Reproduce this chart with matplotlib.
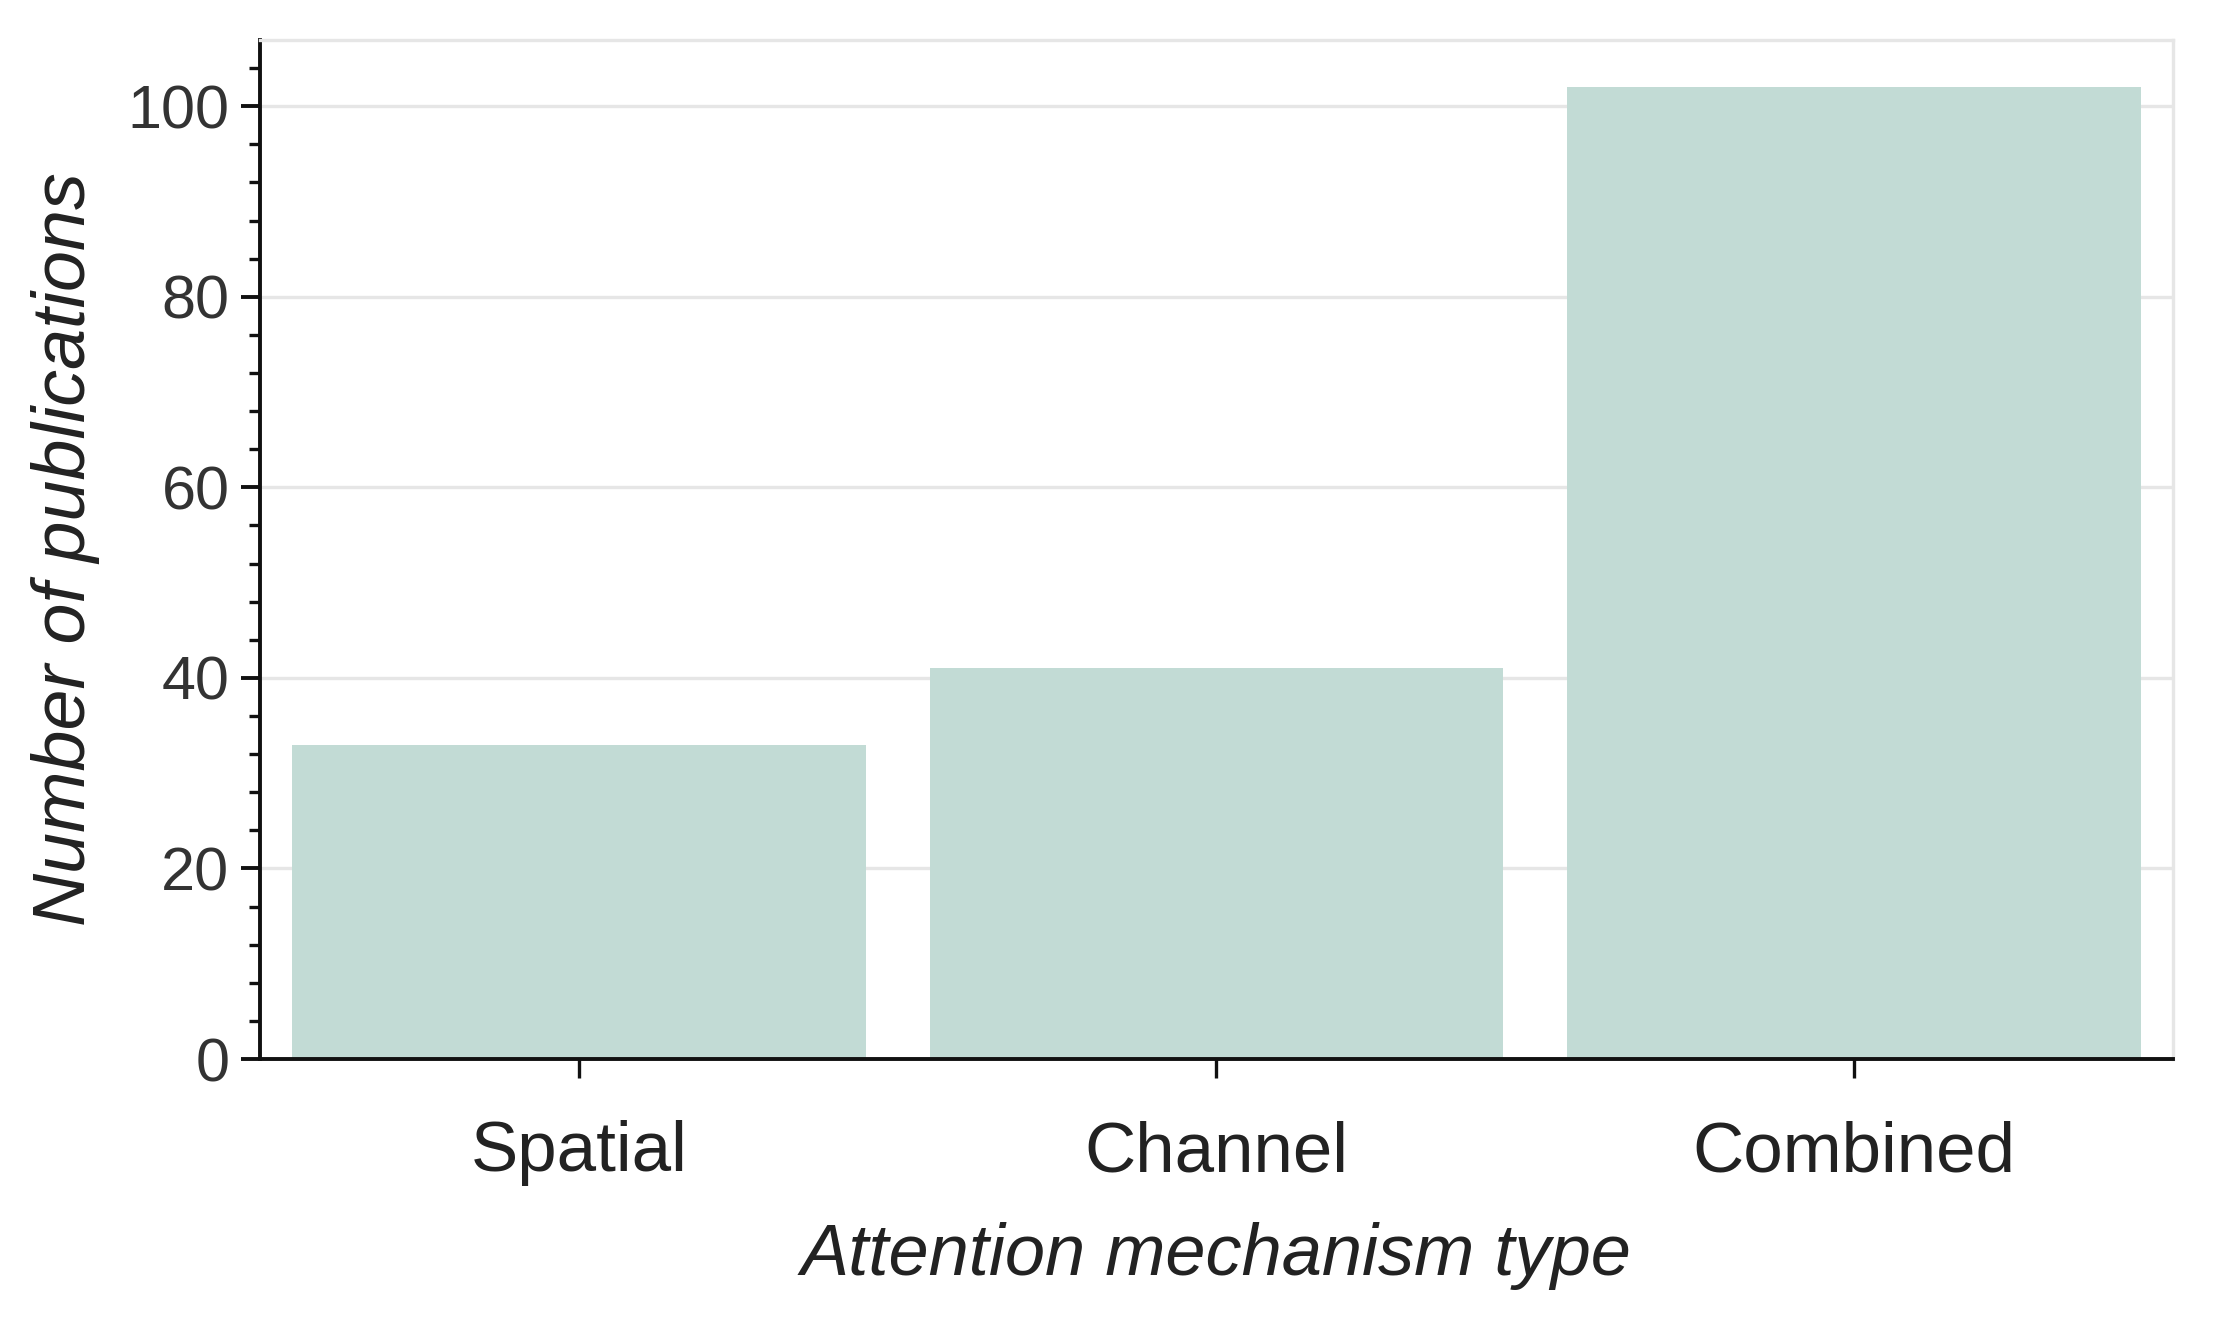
import matplotlib
matplotlib.use('Agg')
import matplotlib.pyplot as plt
from matplotlib.ticker import MultipleLocator

# Data
categories = ['Spatial', 'Channel', 'Combined']
counts = [33, 41, 102]

plt.rcParams['font.family'] = ['Liberation Sans', 'DejaVu Sans']

fig = plt.figure(figsize=(11.1, 6.59), dpi=200)
ax = fig.add_axes([0.1171, 0.1965, 0.8617, 0.7735])

# Bars
x = range(len(categories))
ax.bar(x, counts, width=0.9, color='#c2dbd5', zorder=2)

ax.set_xlim(-0.5, 2.5)
ax.set_ylim(0, 107)
ax.set_xticks(list(x))
ax.set_xticklabels(categories)

# Y ticks
ax.yaxis.set_major_locator(MultipleLocator(20))
ax.yaxis.set_minor_locator(MultipleLocator(4))
ax.grid(axis='y', color='#e6e6e6', linewidth=1.2, zorder=0)
ax.set_axisbelow(True)

# Spines
ax.spines['left'].set_color('#111111')
ax.spines['bottom'].set_color('#111111')
ax.spines['left'].set_linewidth(1.4)
ax.spines['bottom'].set_linewidth(1.4)
ax.spines['top'].set_color('#e6e6e6')
ax.spines['right'].set_color('#e6e6e6')
ax.spines['top'].set_linewidth(1.2)
ax.spines['right'].set_linewidth(1.2)

ax.tick_params(axis='y', which='major', length=7, width=1.4, labelsize=22,
               colors='#111111', labelcolor='#333333', pad=4)
ax.tick_params(axis='y', which='minor', length=4, width=1.2, colors='#111111')
ax.tick_params(axis='x', which='major', length=7, width=1.2, labelsize=25.5,
               colors='#111111', labelcolor='#222222', pad=15)

ax.set_xlabel('Attention mechanism type', fontsize=26, style='italic', color='#222222', labelpad=13)
ax.set_ylabel('Number of publications', fontsize=26.5, style='italic', color='#222222', labelpad=10)

fig.savefig('out.png', dpi=200, facecolor='white')
